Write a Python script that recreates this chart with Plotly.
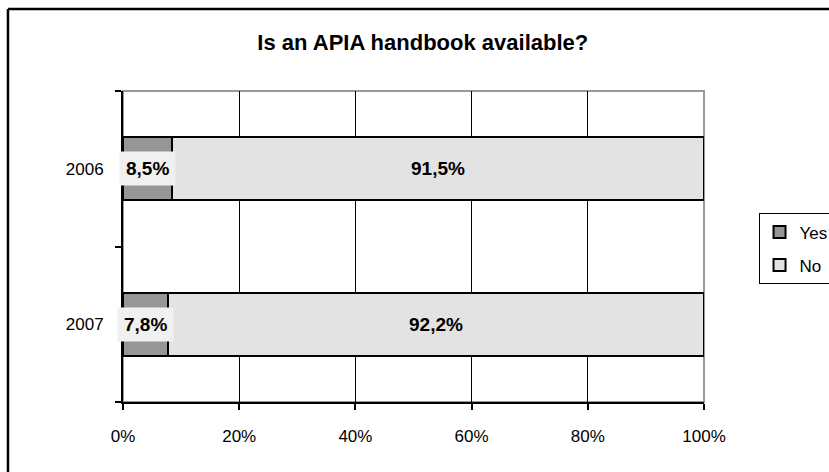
import plotly.graph_objects as go

years = ["2006", "2007"]
yes_pct = [8.5, 7.8]
no_pct = [91.5, 92.2]
series_names = ["Yes", "No"]
series_colors = ["#969696", "#e3e3e3"]
title_text = "Is an APIA handbook available?"

FONT = "Liberation Sans, Arial, sans-serif"
cat_order = years[::-1]  # 2006 on top

fig = go.Figure()
for name, vals, col in zip(series_names, [yes_pct, no_pct], series_colors):
    fig.add_trace(go.Bar(
        y=years, x=vals, name=name, orientation="h", legendgroup=name,
        marker=dict(color=col, line=dict(color="black", width=2)),
        hoverinfo="skip",
    ))

# data labels, centred on each segment
def fmt(v):
    return f"{v:.1f}%".replace(".", ",")

for yr, a, b in zip(years, yes_pct, no_pct):
    yi = cat_order.index(yr)
    fig.add_annotation(x=a / 2, y=yi, text=f"<b>{fmt(a)}</b>", showarrow=False,
                       bgcolor="#f0f0f0", borderpad=6,
                       font=dict(family=FONT, size=19, color="black"))
    fig.add_annotation(x=a + b / 2, y=yi, text=f"<b>{fmt(b)}</b>", showarrow=False,
                       font=dict(family=FONT, size=19, color="black"))

# gray plot border (top/right)
fig.add_shape(type="rect", xref="paper", yref="paper", x0=0, x1=1, y0=0, y1=1,
              line=dict(color="#999999", width=2), layer="below")
# outer chart frame: only top and left edges are visible
frame = dict(color="black", width=2.5)
fig.add_shape(type="line", xref="paper", yref="paper", x0=-0.198, x1=1.6, y0=1.2637, y1=1.2637, line=frame)
fig.add_shape(type="line", xref="paper", yref="paper", x0=-0.198, x1=-0.198, y0=-0.7, y1=1.2637, line=frame)

fig.update_xaxes(range=[0, 100], dtick=20, ticksuffix="%", showgrid=True,
                 gridcolor="black", gridwidth=1, zeroline=False,
                 showline=True, linecolor="black", linewidth=2,
                 ticks="outside", ticklen=6, tickcolor="black", tickwidth=2,
                 ticklabelstandoff=12, automargin=False,
                 tickfont=dict(family=FONT, size=17, color="black"), fixedrange=True)
fig.update_yaxes(type="category", categoryorder="array", categoryarray=cat_order,
                 range=[-0.5, len(years) - 0.5],
                 showline=True, linecolor="black", linewidth=2,
                 ticks="outside", tickson="boundaries", ticklen=6, tickcolor="black", tickwidth=2,
                 tickfont=dict(family=FONT, size=17, color="black"), ticklabelstandoff=14,
                 automargin=False, showgrid=False, fixedrange=True)

fig.update_layout(
    width=829, height=472, autosize=False,
    barmode="stack", bargap=0.595,
    paper_bgcolor="white", plot_bgcolor="white",
    margin=dict(l=123, r=125, t=91, b=70),
    title=dict(text=f"<b>{title_text}</b>", x=0.51, xanchor="center", y=0.91, yanchor="middle",
               font=dict(family=FONT, size=22, color="black")),
    legend=dict(xref="container", yref="container", x=0.915, xanchor="left", y=0.548, yanchor="top",
                bordercolor="black", borderwidth=1, bgcolor="white",
                traceorder="grouped", itemwidth=30, tracegroupgap=8,
                font=dict(family=FONT, size=17, color="black")),
    showlegend=True,
)

fig.write_html("out.html", config={"displayModeBar": False},
               post_script="document.body.style.margin='0';")
